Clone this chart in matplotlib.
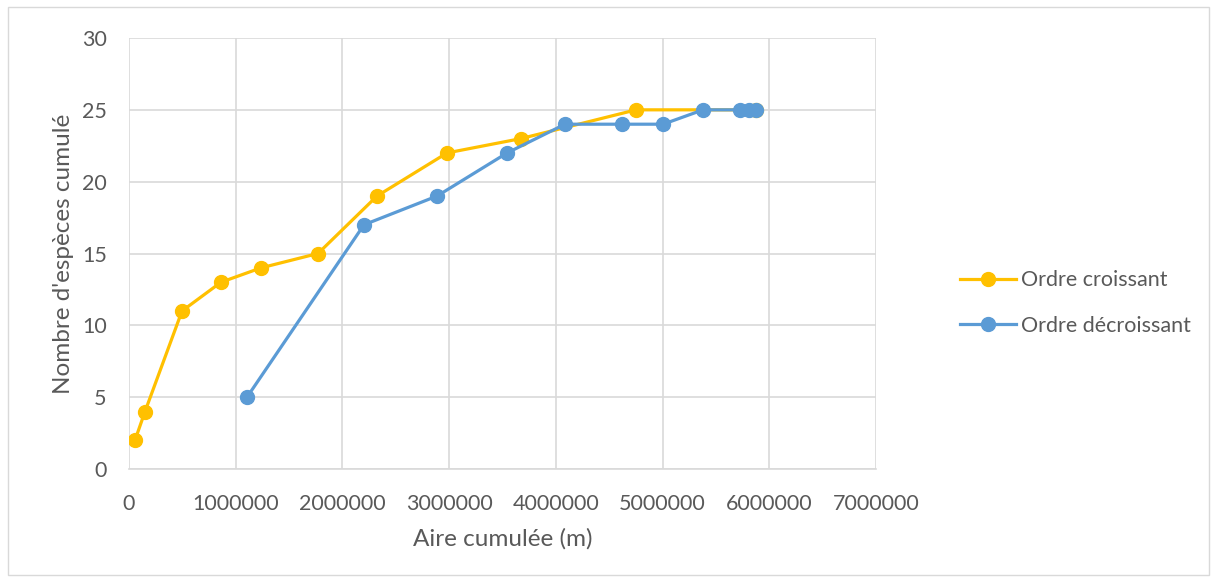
import matplotlib.pyplot as plt
from matplotlib.patches import Rectangle

# Courbes d'accumulation des espèces selon l'ordre de tri des parcelles
aire_croissant = [56000, 150000, 497000, 862000, 1237000, 1771000, 2324000,
                  2980000, 3674000, 4752000, 5876000]
especes_croissant = [2, 4, 11, 13, 14, 15, 19, 22, 23, 25, 25]

aire_decroissant = [1106000, 2202000, 2887000, 3543000, 4086000, 4620000,
                    5005000, 5380000, 5726000, 5811000, 5876000]
especes_decroissant = [5, 17, 19, 22, 24, 24, 24, 25, 25, 25, 25]

x_ticks = [0, 1000000, 2000000, 3000000, 4000000, 5000000, 6000000, 7000000]
y_ticks = [0, 5, 10, 15, 20, 25, 30]

gris_texte = "#595959"
plt.rcParams['font.family'] = ['Lato', 'DejaVu Sans']

fig = plt.figure(figsize=(12.15, 5.82), dpi=100)
fig.patches.append(Rectangle((8 / 1215, 7 / 582), 1201 / 1215, 568 / 582,
                             transform=fig.transFigure, fill=False,
                             edgecolor="#D9D9D9", linewidth=1))
ax = fig.add_axes([129 / 1215, 1 - 469 / 582, 747 / 1215, 431 / 582])

ax.plot(aire_croissant, especes_croissant, color="#FFC000", linewidth=2.3,
        marker="o", markersize=10, label="Ordre croissant", zorder=3)
ax.plot(aire_decroissant, especes_decroissant, color="#5B9BD5", linewidth=2.3,
        marker="o", markersize=10, label="Ordre décroissant", zorder=4)

ax.set_xlim(0, 7000000)
ax.set_ylim(0, 30)
ax.set_xticks(x_ticks)
ax.set_xticklabels([str(v) for v in x_ticks])
ax.set_yticks(y_ticks)
ax.grid(True, color="#D9D9D9", linewidth=1.2)
ax.set_axisbelow(True)
for side in ["top", "right", "left"]:
    ax.spines[side].set_visible(False)
ax.spines["bottom"].set_color("#D9D9D9")
ax.spines["bottom"].set_linewidth(1.2)
ax.tick_params(length=0, labelsize=15.5, colors=gris_texte)
ax.tick_params(axis="x", pad=18)
ax.tick_params(axis="y", pad=16)

ax.set_xlabel("Aire cumulée (m)", fontsize=17.5, color=gris_texte, labelpad=10)
ax.set_ylabel("Nombre d'espèces cumulé", fontsize=17.5, color=gris_texte, labelpad=6)

ax.legend(loc="center left", bbox_to_anchor=(1.087, 0.385), frameon=False,
          fontsize=15.5, labelcolor=gris_texte, handlelength=2.6,
          labelspacing=1.2, handletextpad=0.2)

fig.savefig("out.png", dpi=100)
